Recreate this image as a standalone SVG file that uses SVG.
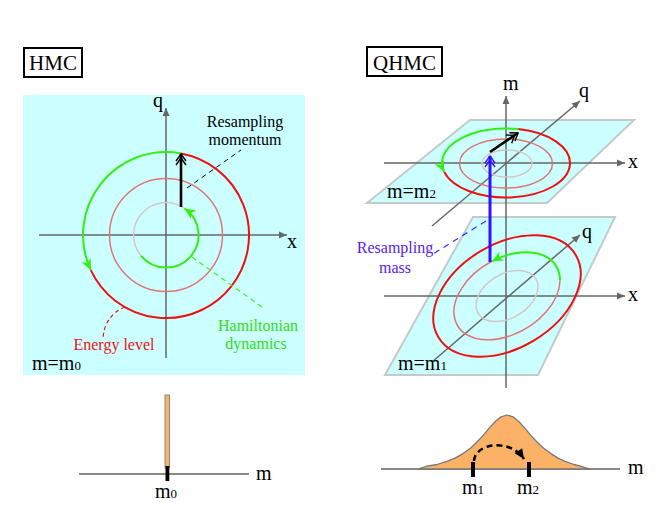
<svg xmlns="http://www.w3.org/2000/svg" width="664" height="519" viewBox="0 0 664 519">
<style>
.t{font-family:"Liberation Serif","Times New Roman",serif;fill:#000}
.lbl{font-size:20px}
.note{font-size:16px}
.ax{stroke:#666;stroke-width:1.5;fill:none}
.plane{fill:#ccffff;stroke:#c4caca;stroke-width:2}
.red{stroke:#ee1111;stroke-width:2;fill:none}
.mid{stroke:#e07575;stroke-width:1.5;fill:none}
.inn{stroke:#d8c6c6;stroke-width:1.5;fill:none}
.grn{stroke:#33ee11;stroke-width:2;fill:none}
</style>
<defs>
<marker id="axh" markerUnits="userSpaceOnUse" markerWidth="12" markerHeight="10" viewBox="-9 -5 10 10" refX="0" refY="0" orient="auto">
<path d="M-8,-3.5 L0,0 L-8,3.5 z" fill="#666"/>
</marker>
<marker id="gh" markerUnits="userSpaceOnUse" markerWidth="14" markerHeight="14" viewBox="-12 -7 14 14" refX="0" refY="0" orient="auto">
<path d="M-11,-5 L0,0 L-11,5 L-8,0 z" fill="#33ee11"/>
</marker>
<marker id="kh" markerUnits="userSpaceOnUse" markerWidth="16" markerHeight="14" viewBox="-14 -7 16 14" refX="0" refY="0" orient="auto">
<path d="M-7,-5 L0,0 L-7,5 M-11,-5 L-4,0 L-11,5" fill="none" stroke="#000" stroke-width="1.4"/>
</marker>
<marker id="bh" markerUnits="userSpaceOnUse" markerWidth="16" markerHeight="14" viewBox="-14 -7 16 14" refX="0" refY="0" orient="auto">
<path d="M-7,-5 L0,0 L-7,5 M-11,-5 L-4,0 L-11,5" fill="none" stroke="#3311ff" stroke-width="1.4"/>
</marker>
<marker id="dh" markerUnits="userSpaceOnUse" markerWidth="12" markerHeight="12" viewBox="-11 -6 12 12" refX="0" refY="0" orient="auto">
<path d="M-10,-4.5 L0,0 L-10,4.5 z" fill="#000"/>
</marker>
</defs>

<!-- ================= HMC ================= -->
<g id="hmc-title">
<rect x="24" y="48" width="58" height="29" fill="#fff" stroke="#000" stroke-width="2"/>
<text class="t" x="53" y="70" font-size="21" text-anchor="middle">HMC</text>
</g>

<g id="hmc-panel">
<rect x="23" y="95" width="282" height="280" fill="#ccffff"/>
</g>

<g id="hmc-axes">
<line class="ax" x1="166" y1="358" x2="166" y2="108" marker-end="url(#axh)"/>
<line class="ax" x1="39" y1="235" x2="287" y2="235" marker-end="url(#axh)"/>
<text class="t lbl" x="153" y="107">q</text>
<text class="t lbl" x="287" y="248">x</text>
</g>

<g id="hmc-levels">
<circle class="mid" cx="166" cy="235" r="56.5"/>
<path class="inn" d="M184.6,208.4 A32.5,32.5 0 0 0 141.1,255.9"/>
<path class="red" d="M90.8,270.1 A83,83 0 1 0 181,153.4"/>
</g>

<g id="hmc-dynamics">
<path class="grn" d="M181,153.4 A83,83 0 0 0 90.8,270.1" marker-end="url(#gh)"/>
<path class="grn" d="M141.1,255.9 A32.5,32.5 0 1 0 184.6,208.4" marker-end="url(#gh)"/>
</g>

<g id="hmc-momentum">
<line x1="181" y1="207" x2="181" y2="154" stroke="#000" stroke-width="2.6" marker-end="url(#kh)"/>
</g>

<g id="hmc-connectors">
<line x1="187" y1="188" x2="241" y2="150" stroke="#000" stroke-width="1" stroke-dasharray="5,4"/>
<line x1="192" y1="257" x2="262" y2="307" stroke="#44ee22" stroke-width="1.2" stroke-dasharray="5,4"/>
<path d="M125,307 Q104,316 103,339" fill="none" stroke="#ee1111" stroke-width="1.2" stroke-dasharray="4,3"/>
</g>

<g id="hmc-labels">
<text class="t note" x="245" y="127" text-anchor="middle">Resampling</text>
<text class="t note" x="245" y="145" text-anchor="middle">momentum</text>
<text class="t note" x="258" y="331" text-anchor="middle" style="fill:#33dd11">Hamiltonian</text>
<text class="t note" x="256" y="349" text-anchor="middle" style="fill:#33dd11">dynamics</text>
<text class="t note" x="114" y="350" text-anchor="middle" style="fill:#ee1111">Energy level</text>
<text class="t lbl" x="32" y="370">m=m<tspan font-size="13">0</tspan></text>
</g>

<g id="hmc-mass">
<line x1="79" y1="474" x2="249" y2="474" stroke="#888" stroke-width="2"/>
<rect x="165" y="395" width="4.5" height="73" fill="#fbb266" stroke="#888" stroke-width="1"/>
<rect x="165.5" y="466" width="3.8" height="15" fill="#000"/>
<text class="t lbl" x="256" y="480">m</text>
<text class="t lbl" x="155" y="498">m<tspan font-size="13">0</tspan></text>
</g>

<!-- ================= QHMC ================= -->
<g id="qhmc-title">
<rect x="367" y="47" width="75" height="29" fill="#fff" stroke="#000" stroke-width="2"/>
<text class="t" x="404.5" y="70" font-size="21" text-anchor="middle">QHMC</text>
</g>

<g id="plane-m2">
<polygon class="plane" points="470,120 634,120 547,203 367,203"/>
</g>
<g id="plane-m1">
<polygon class="plane" points="473,217 615,217 538,375 385,375"/>
</g>

<g id="qhmc-axes">
<line class="ax" x1="506" y1="388" x2="506" y2="96" marker-end="url(#axh)"/>
<line class="ax" x1="384" y1="163" x2="625" y2="163" marker-end="url(#axh)"/>
<line class="ax" x1="432" y1="226" x2="580" y2="101" marker-end="url(#axh)"/>
<line class="ax" x1="384" y1="296" x2="625" y2="296" marker-end="url(#axh)"/>
<line class="ax" x1="432" y1="362" x2="580" y2="235" marker-end="url(#axh)"/>
<text class="t lbl" x="503" y="90">m</text>
<text class="t lbl" x="579" y="97">q</text>
<text class="t lbl" x="628" y="168">x</text>
<text class="t lbl" x="582" y="238">q</text>
<text class="t lbl" x="628" y="301">x</text>
</g>

<g id="levels-m2">
<ellipse class="inn" cx="507" cy="163.5" rx="25" ry="13.5"/>
<ellipse class="mid" cx="506" cy="163.5" rx="46.5" ry="24.5"/>
<path class="red" d="M444.2,171.9 A64,34.5 0 1 0 518.2,129.1"/>
<path class="grn" d="M518.2,129.1 A64,34.5 0 0 0 444.2,171.9" marker-end="url(#gh)"/>
</g>

<g id="levels-m1" transform="translate(507,296) rotate(-31)">
<ellipse class="inn" cx="0" cy="0" rx="33.6" ry="22"/>
<path class="mid" d="M5,-37.5 A57.6,37.6 0 1 0 53.6,13.7"/>
<ellipse class="red" cx="0" cy="0" rx="80" ry="52"/>
<path class="grn" d="M53.6,13.7 A57.6,37.6 0 0 0 5,-37.5" marker-end="url(#gh)"/>
</g>

<g id="resample-mass">
<line x1="490" y1="262" x2="490" y2="156" stroke="#3311ff" stroke-width="3" marker-end="url(#bh)"/>
</g>
<g id="resample-momentum">
<line x1="490" y1="152" x2="518" y2="133" stroke="#000" stroke-width="2.6" marker-end="url(#kh)"/>
</g>

<g id="qhmc-connectors">
<line x1="486" y1="221" x2="433" y2="254" stroke="#4422ff" stroke-width="1.2" stroke-dasharray="6,5"/>
</g>

<g id="qhmc-labels">
<text class="t note" x="395" y="253" text-anchor="middle" style="fill:#5522ee">Resampling</text>
<text class="t note" x="395" y="273" text-anchor="middle" style="fill:#5522ee">mass</text>
<text class="t lbl" x="387" y="198">m=m<tspan font-size="13">2</tspan></text>
<text class="t lbl" x="398" y="370">m=m<tspan font-size="13">1</tspan></text>
</g>

<g id="qhmc-mass">
<line x1="381" y1="469" x2="620" y2="469" stroke="#888" stroke-width="2"/>
<path d="M418,469 L427,466.2 L437,464.5 L447,461.3 L455,458.1 L463,453.6 L471,447.7 L477,442 L483,435.6 L489,428.4 L495,421.7 L501,416.8 L507,415 L513,416.8 L519,421.7 L525,428.4 L531,435.6 L537,442 L543,447.7 L551,453.6 L558,458.1 L565,461.3 L574,464.5 L582,466.6 L590,469 z" fill="#fbb266" stroke="#777" stroke-width="1.3" stroke-linejoin="round"/>
<line x1="473" y1="462" x2="473" y2="477" stroke="#000" stroke-width="4"/>
<line x1="529" y1="462" x2="529" y2="477" stroke="#000" stroke-width="4"/>
<path d="M474,461 C475,443 510,438 524,459" fill="none" stroke="#000" stroke-width="2.5" stroke-dasharray="6,4" marker-end="url(#dh)"/>
<text class="t lbl" x="628" y="474">m</text>
<text class="t lbl" x="462" y="494">m<tspan font-size="13">1</tspan></text>
<text class="t lbl" x="517" y="494">m<tspan font-size="13">2</tspan></text>
</g>
</svg>
